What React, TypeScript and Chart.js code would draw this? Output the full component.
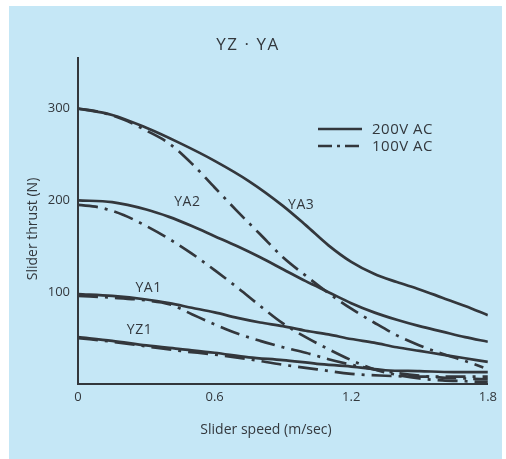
import { useEffect, useRef } from 'react';
import { Chart, registerables } from 'chart.js';

Chart.register(...registerables);

const chartTitle = 'YZ · YA';
const xAxisTitle = 'Slider speed (m/sec)';
const yAxisTitle = 'Slider thrust (N)';
const xTicks = [0, 0.6, 1.2, 1.8];
const yTicks = [100, 200, 300];
const legendLabels = ['200V AC', '100V AC'];

// [speed m/s, thrust N]
const ya3_200V = [[0, 300], [0.15, 293], [0.3, 279], [0.45, 262], [0.6, 243], [0.75, 221], [0.9, 194], [1.0, 173], [1.1, 151], [1.2, 133], [1.3, 120], [1.4, 111], [1.5, 103], [1.6, 94], [1.7, 85], [1.8, 75]];
const ya3_100V = [[0, 300], [0.1, 296], [0.2, 288], [0.3, 276], [0.4, 262], [0.5, 240], [0.6, 214], [0.7, 188], [0.8, 163], [0.9, 138], [1.0, 118], [1.1, 99], [1.2, 82], [1.3, 67], [1.4, 53], [1.5, 42], [1.6, 33], [1.7, 25], [1.78, 18]];
const ya2_200V = [[0, 200], [0.15, 198], [0.3, 190], [0.4, 182], [0.5, 172], [0.6, 161], [0.7, 150], [0.8, 138], [0.9, 125], [1.0, 112], [1.1, 100], [1.2, 88], [1.3, 78], [1.4, 70], [1.5, 63], [1.6, 57], [1.7, 51], [1.8, 46]];
const ya2_100V = [[0, 195], [0.1, 192], [0.2, 184], [0.3, 172], [0.4, 158], [0.5, 142], [0.6, 124], [0.7, 105], [0.8, 85], [0.9, 66], [1.0, 51], [1.1, 38], [1.2, 26], [1.3, 16], [1.4, 10], [1.5, 6], [1.6, 4], [1.7, 3], [1.8, 2]];
const ya1_200V = [[0, 98], [0.15, 96], [0.3, 92], [0.4, 88], [0.5, 83], [0.6, 78], [0.7, 72], [0.8, 67], [0.9, 63], [1.0, 58], [1.1, 54], [1.2, 49], [1.3, 45], [1.4, 40], [1.5, 36], [1.6, 32], [1.7, 28], [1.8, 24]];
const ya1_100V = [[0, 96], [0.15, 94], [0.3, 91], [0.4, 87], [0.5, 76], [0.6, 65], [0.7, 55], [0.8, 47], [0.9, 40], [1.0, 34], [1.1, 27], [1.2, 21], [1.3, 16], [1.4, 12], [1.5, 9], [1.6, 7], [1.7, 6], [1.8, 5]];
const yz1_200V = [[0, 51], [0.15, 47], [0.3, 42], [0.45, 38], [0.6, 34], [0.75, 29], [0.9, 26], [1.05, 22], [1.2, 19], [1.35, 15], [1.5, 14], [1.65, 13], [1.8, 13]];
const yz1_100V = [[0, 50], [0.15, 46], [0.3, 41], [0.45, 36], [0.6, 32], [0.75, 27], [0.9, 21], [1.05, 16], [1.2, 11], [1.35, 9], [1.5, 8], [1.65, 8], [1.8, 8]];

const curveNames = ['YA3', 'YA2', 'YA1', 'YZ1'];
const curveLabelX = [0.98, 0.48, 0.31, 0.27];
const curveLabelY = [195, 198, 104, 59];

const INK = '#33373c';
const TEXT = '#33383d';
const FONT = '"Open Sans", sans-serif';
const DASH_DOT = [20, 7, 3, 7];

const toPts = (arr: number[][]) => arr.map(([x, y]) => ({ x, y }));

const overlay = {
  id: 'overlay',
  afterDraw(chart: any) {
    const { ctx, chartArea: a, scales } = chart;
    const xs = scales.x;
    const ys = scales.y;
    ctx.save();
    ctx.fillStyle = TEXT;
    ctx.textAlign = 'center';
    ctx.textBaseline = 'middle';

    // chart title
    ctx.font = `17px ${FONT}`;
    (ctx as any).letterSpacing = '1.5px';
    ctx.fillText(chartTitle, a.left + 170, 39);
    (ctx as any).letterSpacing = '0px';

    // axis titles
    ctx.font = `14px ${FONT}`;
    ctx.fillText(xAxisTitle, a.left + 188, a.bottom + 46);
    ctx.save();
    ctx.translate(24, 223);
    ctx.rotate(-Math.PI / 2);
    ctx.fillText(yAxisTitle, 0, 0);
    ctx.restore();

    // curve labels
    ctx.font = `14px ${FONT}`;
    (ctx as any).letterSpacing = '0.5px';
    curveNames.forEach((n, i) => {
      ctx.fillText(n, xs.getPixelForValue(curveLabelX[i]), ys.getPixelForValue(curveLabelY[i]));
    });

    // legend
    const lx0 = a.left + 240;
    const lx1 = a.left + 284;
    const rows = [a.top + 71, a.top + 88];
    ctx.strokeStyle = INK;
    ctx.lineWidth = 2.6;
    rows.forEach((ry, i) => {
      ctx.beginPath();
      ctx.setLineDash(i === 0 ? [] : [14, 5, 3, 5]);
      ctx.moveTo(lx0, ry);
      ctx.lineTo(lx1, ry);
      ctx.stroke();
      ctx.setLineDash([]);
      ctx.textAlign = 'left';
      ctx.font = `15px ${FONT}`;
      ctx.fillText(legendLabels[i], a.left + 294, ry + 1);
    });
    ctx.restore();
  },
};

export default function App() {
  const ref = useRef<HTMLCanvasElement>(null);
  useEffect(() => {
    const mk = (data: number[][], dashed: boolean) => ({
      data: toPts(data),
      borderColor: INK,
      borderWidth: 2.7,
      borderDash: dashed ? DASH_DOT : [],
      pointRadius: 0,
      fill: false,
      cubicInterpolationMode: 'monotone' as const,
    });
    const chart = new Chart(ref.current!, {
      type: 'line',
      data: {
        datasets: [
          { label: 'YA3 200V AC', ...mk(ya3_200V, false) },
          { label: 'YA3 100V AC', ...mk(ya3_100V, true) },
          { label: 'YA2 200V AC', ...mk(ya2_200V, false) },
          { label: 'YA2 100V AC', ...mk(ya2_100V, true) },
          { label: 'YA1 200V AC', ...mk(ya1_200V, false) },
          { label: 'YA1 100V AC', ...mk(ya1_100V, true) },
          { label: 'YZ1 200V AC', ...mk(yz1_200V, false) },
          { label: 'YZ1 100V AC', ...mk(yz1_100V, true) },
        ],
      },
      options: {
        responsive: false,
        animation: false,
        layout: { padding: { top: 52, right: 14, left: 0, bottom: 0 } },
        plugins: { legend: { display: false }, tooltip: { enabled: false }, title: { display: false } },
        scales: {
          x: {
            type: 'linear',
            min: 0,
            max: 1.8,
            afterBuildTicks: (s: any) => { s.ticks = xTicks.map((v) => ({ value: v })); },
            afterFit: (s: any) => { s.height = 75; },
            ticks: {
              autoSkip: false,
              maxRotation: 0,
              padding: 5,
              color: TEXT,
              font: { family: FONT, size: 13 },
              callback: (v: any) => String(v),
            },
            grid: { display: false, drawTicks: false },
            border: { display: true, color: INK, width: 2 },
          },
          y: {
            type: 'linear',
            min: 0,
            max: 355,
            afterBuildTicks: (s: any) => { s.ticks = yTicks.map((v) => ({ value: v })); },
            afterFit: (s: any) => { s.width = 69; },
            ticks: {
              padding: 8,
              color: TEXT,
              font: { family: FONT, size: 13 },
              callback: (v: any) => String(v),
            },
            grid: { display: false, drawTicks: false },
            border: { display: true, color: INK, width: 2 },
          },
        },
      },
      plugins: [overlay],
    });
    return () => chart.destroy();
  }, []);
  return (
    <div style={{ position: 'absolute', left: 9, top: 6, width: 493, height: 453, background: '#c5e7f6' }}>
      <canvas ref={ref} width={493} height={453} style={{ display: 'block' }} />
    </div>
  );
}
